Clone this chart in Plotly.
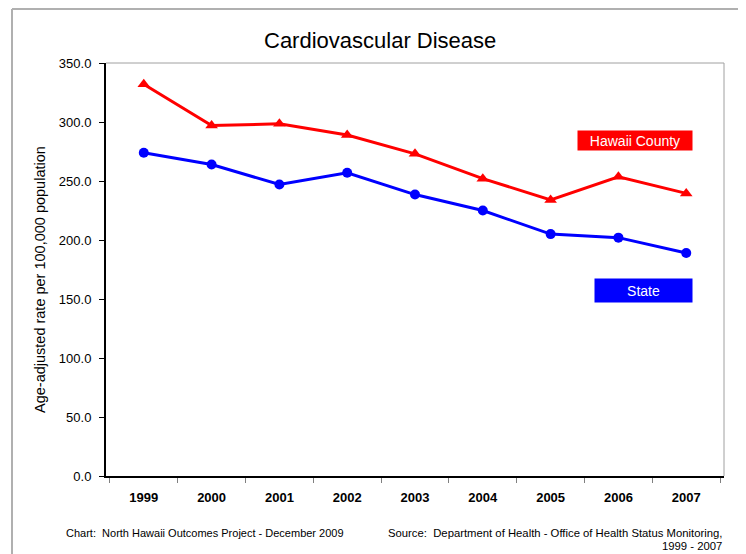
import plotly.graph_objects as go

years = ["1999", "2000", "2001", "2002", "2003", "2004", "2005", "2006", "2007"]
hawaii_county = [332, 297, 298.5, 289, 273, 252, 234, 253.5, 239.5]
state = [274, 264, 247, 257, 238.5, 225, 205, 202, 189]
y_ticks = [0, 50, 100, 150, 200, 250, 300, 350]
y_tick_labels = [f"{v:.1f}" for v in y_ticks]

FONT = "Liberation Sans, Arial, sans-serif"

fig = go.Figure()
fig.add_trace(go.Scatter(
    x=years, y=hawaii_county, mode="lines+markers", name="Hawaii County",
    line=dict(color="#ff0000", width=3),
    marker=dict(symbol="triangle-up", size=11, color="#ff0000"),
))
fig.add_trace(go.Scatter(
    x=years, y=state, mode="lines+markers", name="State",
    line=dict(color="#0000ff", width=3),
    marker=dict(symbol="circle", size=10, color="#0000ff"),
))

# page body has an 8px margin; lay out in reference-page pixels minus that
OFF = 8
PAGE_W, PAGE_H = 746, 554
W, H = PAGE_W - OFF, PAGE_H - OFF
PL, PR, PT, PB = 106, 724, 63, 476  # plot area in reference page pixels
L, T = PL - OFF, PT - OFF
R, B = W - (PR - OFF), H - (PB - OFF)
pw, ph = PR - PL, PB - PT

def px_x(x):
    return (x - PL) / pw

def px_y(y):
    return (PB - y) / ph

shapes = [
    dict(type="line", xref="paper", yref="paper", x0=0, x1=1, y0=1, y1=1,
         line=dict(color="#a0a0a0", width=1)),
    dict(type="line", xref="paper", yref="paper", x0=1, x1=1, y0=0, y1=1,
         line=dict(color="#a0a0a0", width=1)),
    dict(type="line", xref="paper", yref="paper", x0=px_x(12), x1=px_x(745),
         y0=px_y(9), y1=px_y(9), line=dict(color="#b0b0b0", width=2)),
    dict(type="line", xref="paper", yref="paper", x0=px_x(12), x1=px_x(12),
         y0=px_y(9), y1=px_y(560), line=dict(color="#b0b0b0", width=2)),
    dict(type="line", xref="paper", yref="paper", x0=px_x(744), x1=px_x(744),
         y0=px_y(9), y1=px_y(560), line=dict(color="#b0b0b0", width=2)),
]

def ann(text, x, y, xanchor="center", size=11, **kw):
    d = dict(text=text, xref="paper", yref="paper", x=px_x(x), y=px_y(y),
             xanchor=xanchor, yanchor="middle", showarrow=False,
             font=dict(family=FONT, size=size, color=kw.pop("color", "black")))
    d.update(kw)
    return d

annotations = [
    ann("Cardiovascular Disease", 380, 40, size=22),
    ann("Age-adjusted rate per 100,000 population", 40, 280, size=14.5, textangle=-90),
    ann("Hawaii County", 635, 140.5, size=14, color="white",
        bgcolor="#ff0000", width=112, height=17),
    ann("State", 643.5, 290.5, size=14, color="white",
        bgcolor="#0000ff", width=95, height=21),
    ann("Chart:  North Hawaii Outcomes Project - December 2009", 64, 533, xanchor="left"),
    ann("Source:  Department of Health - Office of Health Status Monitoring,", 724, 533,
        xanchor="right", size=11.3),
    ann("1999 - 2007", 724, 546, xanchor="right", size=11.3),
]

fig.update_layout(
    width=W, height=H,
    margin=dict(l=L, r=R, t=T, b=B, pad=0),
    paper_bgcolor="white", plot_bgcolor="white",
    showlegend=False,
    shapes=shapes,
    annotations=annotations,
    font=dict(family=FONT, color="black"),
)
fig.update_xaxes(
    type="category", tickson="boundaries", ticks="outside", ticklen=5,
    tickcolor="#808080", showline=True, linecolor="black", linewidth=2,
    showgrid=False, zeroline=False,
    tickfont=dict(family=FONT, size=13, color="black", weight="bold"),
    ticklabelstandoff=8,
)
fig.update_yaxes(
    range=[0, 350], tickvals=y_ticks, ticktext=y_tick_labels,
    ticks="outside", ticklen=5, tickcolor="black",
    showline=True, linecolor="black", linewidth=2,
    showgrid=False, zeroline=False,
    tickfont=dict(family=FONT, size=13, color="black"),
    ticklabelstandoff=5,
)

fig.write_html("out.html")
